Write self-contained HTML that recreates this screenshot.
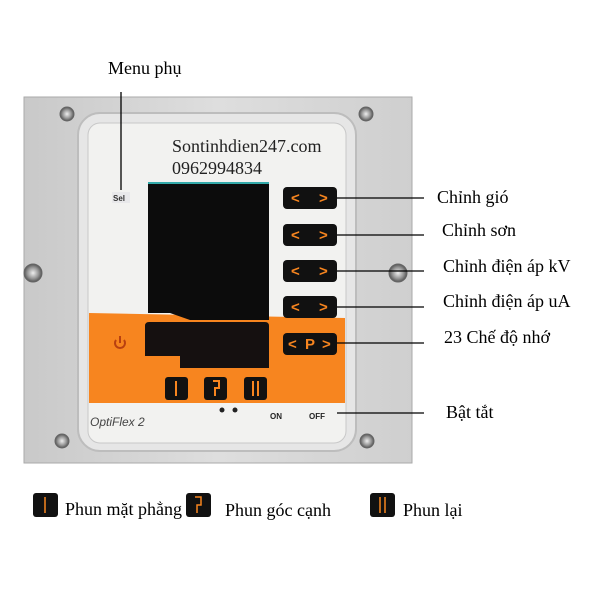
<!DOCTYPE html>
<html><head><meta charset="utf-8"><style>
html,body{margin:0;padding:0;background:#fff;}
svg{display:block}
</style></head><body>
<svg width="600" height="600" viewBox="0 0 600 600" xmlns="http://www.w3.org/2000/svg" font-family="Liberation Serif, serif">
<defs>
<linearGradient id="plate" x1="0" y1="0" x2="1" y2="0">
<stop offset="0" stop-color="#c9c9c9"/><stop offset="0.5" stop-color="#dedede"/><stop offset="1" stop-color="#cfcfcf"/>
</linearGradient>
<radialGradient id="scr"><stop offset="0" stop-color="#eee"/><stop offset="0.6" stop-color="#999"/><stop offset="1" stop-color="#555"/></radialGradient>
</defs>
<rect x="24" y="97" width="388" height="366" fill="url(#plate)" stroke="#aaa"/>
<rect x="78" y="113" width="278" height="338" rx="22" fill="#e6e6e6" stroke="#bdbdbd" stroke-width="2"/>
<rect x="88" y="123" width="258" height="320" rx="12" fill="#f2f2f0" stroke="#c8c8c8"/>
<path d="M89 313 L345 318 L345 403 L89 403 Z" fill="#f7851f"/>
<g fill="url(#scr)" stroke="#666" stroke-width="1">
<circle cx="67" cy="114" r="7"/><circle cx="366" cy="114" r="7"/>
<circle cx="33" cy="273" r="9"/><circle cx="398" cy="273" r="9"/>
<circle cx="62" cy="441" r="7"/><circle cx="367" cy="441" r="7"/>
</g>
<path d="M148 182 L269 182 L269 320 L190 320 L170 313 L148 313 Z" fill="#0c0c0c"/>
<rect x="148" y="182" width="121" height="2" fill="#3aa"/>
<path d="M145 326 Q145 322 149 322 L265 322 Q269 322 269 326 L269 368 L180 368 L180 356 L145 356 Z" fill="#151010"/>
<g font-family="Liberation Sans, sans-serif" font-weight="bold" font-size="15" fill="#f7851f">
<rect x="283" y="187" width="54" height="22" rx="4" fill="#111"/><text x="291" y="203">&lt;</text><text x="319" y="203">&gt;</text>
<rect x="283" y="224" width="54" height="22" rx="4" fill="#111"/><text x="291" y="240">&lt;</text><text x="319" y="240">&gt;</text>
<rect x="283" y="260" width="54" height="22" rx="4" fill="#111"/><text x="291" y="276">&lt;</text><text x="319" y="276">&gt;</text>
<rect x="283" y="296" width="54" height="22" rx="4" fill="#111"/><text x="291" y="312">&lt;</text><text x="319" y="312">&gt;</text>
<rect x="283" y="333" width="54" height="22" rx="4" fill="#111"/><text x="288" y="349">&lt;</text><text x="305" y="349">P</text><text x="322" y="349">&gt;</text>
</g>
<rect x="165" y="377" width="23" height="23" rx="3" fill="#111"/>
<rect x="204" y="377" width="23" height="23" rx="3" fill="#111"/>
<rect x="244" y="377" width="23" height="23" rx="3" fill="#111"/>
<g stroke="#f7851f" stroke-width="2" fill="none">
<line x1="176" y1="381" x2="176" y2="396"/>
<path d="M213 381 L219 381 L219 388 L215 388 L215 396"/>
<line x1="253" y1="381" x2="253" y2="396"/><line x1="258" y1="381" x2="258" y2="396"/>
</g>
<path d="M116 340 A5 5 0 1 0 124 340" stroke="#b84010" stroke-width="2" fill="none"/>
<line x1="120" y1="336" x2="120" y2="343" stroke="#b84010" stroke-width="2"/>
<rect x="112" y="192" width="18" height="11" fill="#e8e8ea"/>
<text x="113" y="201" font-family="Liberation Sans, sans-serif" font-weight="bold" font-size="8" fill="#333">Sel</text>
<text x="172" y="152" font-size="18" fill="#222">Sontinhdien247.com</text>
<text x="172" y="174" font-size="18" fill="#222">0962994834</text>
<text x="90" y="426" font-family="Liberation Sans, sans-serif" font-style="italic" font-size="12" fill="#444">OptiFlex  2</text>
<circle cx="222" cy="410" r="2.5" fill="#222"/><circle cx="235" cy="410" r="2.5" fill="#222"/>
<text x="270" y="419" font-family="Liberation Sans, sans-serif" font-weight="bold" font-size="8" fill="#222">ON</text>
<text x="309" y="419" font-family="Liberation Sans, sans-serif" font-weight="bold" font-size="8" fill="#222">OFF</text>
<g stroke="#000" stroke-width="1.3">
<line x1="121" y1="92" x2="121" y2="190"/>
<line x1="337" y1="198" x2="424" y2="198"/>
<line x1="337" y1="235" x2="424" y2="235"/>
<line x1="337" y1="271" x2="424" y2="271"/>
<line x1="337" y1="307" x2="424" y2="307"/>
<line x1="337" y1="343" x2="424" y2="343"/>
<line x1="337" y1="413" x2="424" y2="413"/>
</g>
<g font-size="18" fill="#000">
<text x="108" y="74">Menu phụ</text>
<text x="437" y="203">Chỉnh gió</text>
<text x="442" y="236">Chỉnh sơn</text>
<text x="443" y="272">Chỉnh điện áp kV</text>
<text x="443" y="307">Chỉnh điện áp uA</text>
<text x="444" y="343">23 Chế độ nhớ</text>
<text x="446" y="418">Bật tắt</text>
<text x="65" y="515">Phun mặt phẳng</text>
<text x="225" y="516">Phun góc cạnh</text>
<text x="403" y="516">Phun lại</text>
</g>
<rect x="33" y="493" width="25" height="24" rx="3" fill="#111"/>
<line x1="45" y1="497" x2="45" y2="513" stroke="#f7851f" stroke-width="1.5"/>
<rect x="186" y="493" width="25" height="24" rx="3" fill="#111"/>
<path d="M195 497 L201 497 L201 505 L197 505 L197 513" stroke="#f7851f" stroke-width="1.5" fill="none"/>
<rect x="370" y="493" width="25" height="24" rx="3" fill="#111"/>
<line x1="380" y1="497" x2="380" y2="513" stroke="#f7851f" stroke-width="1.5"/>
<line x1="385" y1="497" x2="385" y2="513" stroke="#f7851f" stroke-width="1.5"/>
</svg>
</body></html>
